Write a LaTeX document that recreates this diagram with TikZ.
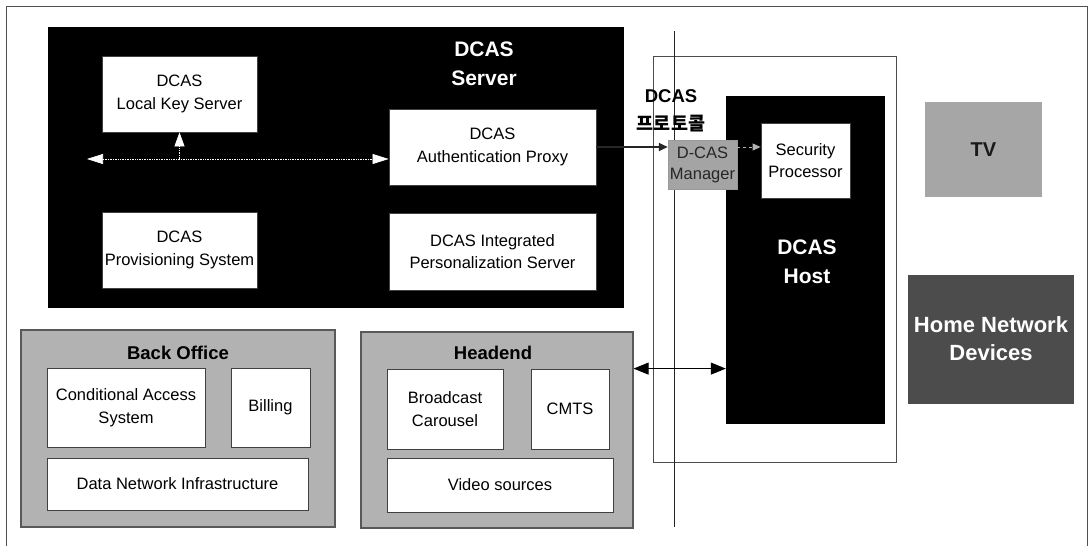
\documentclass[tikz,border=0pt]{standalone}
\usepackage{fontspec}
\setmainfont{Liberation Sans}
\newfontfamily\kr{Noto Sans CJK KR}
\usetikzlibrary{arrows.meta}
\definecolor{grpgray}{HTML}{B2B2B2}
\definecolor{tvgray}{HTML}{A6A6A6}
\definecolor{hndgray}{HTML}{4C4C4C}
\definecolor{dcmgray}{HTML}{A4A4A4}
\definecolor{framegray}{HTML}{505050}
\tikzset{
  wbox/.style={draw=black!75, line width=0.8pt, fill=white, align=center, inner sep=0pt,
    font=\fontsize{16.5}{22.5}\selectfont},
  blkbox/.style={fill=black, draw=black, inner sep=0pt},
  grpbox/.style={fill=grpgray, draw=black!65, line width=1.2pt, inner sep=0pt},
  biglbl/.style={font=\bfseries\fontsize{21}{29}\selectfont, text=white, align=center, inner sep=0pt},
  grplbl/.style={font=\bfseries\fontsize{18.5}{22}\selectfont, inner sep=0pt},
  whitearr/.style={draw=white, line width=0.7pt, densely dotted},
  whitetip/.style={{Triangle[length=16pt,width=10pt,fill=white,color=white]}},
}
\begin{document}
\begin{tikzpicture}[x=1pt,y=-1pt]
\useasboundingbox (0,0) rectangle (1090,546);
% outer frame
\coordinate (f1) at (6,546);
\coordinate (f2) at (6,6);
\coordinate (f3) at (1087,6);
\coordinate (f4) at (1087,546);
\draw[framegray, line width=0.9pt] (f1) -- (f2) -- (f3) -- (f4);

% DCAS server
\node[blkbox, minimum width=575, minimum height=280] (srv) at (335.5,167) {};
\node[biglbl] (srvlbl) at (484,64) {DCAS\\Server};
\node[wbox, minimum width=155, minimum height=76] (lks) at (179.5,94) {DCAS\\Local Key Server};
\node[wbox, minimum width=155, minimum height=76] (prov) at (179.5,250) {DCAS\\Provisioning System};
\node[wbox, minimum width=207, minimum height=76] (auth) at (492.5,147) {DCAS\\Authentication Proxy};
\node[wbox, minimum width=207, minimum height=77] (dips) at (492.5,251.5) {DCAS Integrated\\Personalization Server};
\coordinate (la) at (87,159);
\draw[whitearr, {Triangle[length=16pt,width=10pt,color=white]}-{Triangle[length=16pt,width=10pt,color=white]}]
  (la) -- (la -| auth.west);
\draw[whitearr, -{Triangle[length=14pt,width=10pt,color=white]}] (lks.south |- la) -- (lks.south);

% DCAS host
\node[draw=black!70, line width=0.8pt, fill=white, minimum width=243, minimum height=406, inner sep=0pt] (hframe) at (774.5,259) {};
\coordinate (vt) at (674,31);
\coordinate (vb) at (674,527);
\draw[black!85, line width=0.9pt] (vt) -- (vb);
\node[blkbox, minimum width=158, minimum height=327] (host) at (805,259.5) {};
\node[biglbl] (hostlbl) at (807,262) {DCAS\\Host};
\node[wbox, minimum width=89, minimum height=75] (sp) at (805.5,160.5) {Security\\Processor};
\node[fill=dcmgray, draw=black!40, line width=0.5pt, minimum width=69, minimum height=49, inner sep=0pt,
  align=center, text=black!85, font=\fontsize{16.5}{21}\selectfont] (dcm) at (702.5,164.5) {D-CAS\\Manager};
\node[font=\bfseries\fontsize{18.5}{28}\selectfont, align=center, inner sep=0pt] (proto) at (671,111) {DCAS\\{\kr\bfseries 프로토콜}};
\draw[black!85, line width=1.6pt, -{Triangle[length=9pt,width=8pt]}] (auth.east) -- (auth.east -| dcm.west);
\draw[gray!60, line width=1pt, dashed, -{Triangle[length=8pt,width=7pt]}] (dcm.east |- auth.east) -- (sp.west |- auth.east);

% TV and home network
\node[fill=tvgray, minimum width=117, minimum height=95, inner sep=0pt,
  font=\bfseries\fontsize{20}{24}\selectfont, text=black!90] (tv) at (983.5,149.5) {TV};
\node[fill=hndgray, minimum width=166, minimum height=129, inner sep=0pt, align=center,
  font=\bfseries\fontsize{22}{28}\selectfont, text=white] (hnd) at (991,339) {Home Network\\Devices};

% Back office
\node[grpbox, minimum width=314, minimum height=197] (bo) at (178,428.5) {};
\node[grplbl] (bolbl) at (178,353) {Back Office};
\node[wbox, minimum width=158, minimum height=79] (cas) at (126,407.5) {Conditional Access\\System};
\node[wbox, minimum width=79, minimum height=79] (bill) at (270.5,407.5) {Billing};
\node[wbox, minimum width=261, minimum height=52] (dni) at (177.5,484) {Data Network Infrastructure};

% Headend
\node[grpbox, minimum width=272, minimum height=196] (he) at (497,430) {};
\node[grplbl] (helbl) at (493,353) {Headend};
\node[wbox, minimum width=116, minimum height=80] (bc) at (445,409) {Broadcast\\Carousel};
\node[wbox, minimum width=78, minimum height=80] (cmts) at (570,409) {CMTS};
\node[wbox, minimum width=226, minimum height=54] (vs) at (500,485) {Video sources};

\draw[black, line width=1pt, {Triangle[length=15pt,width=12pt]}-{Triangle[length=15pt,width=12pt]}]
  (he.east |- cmts.north) -- (host.west |- cmts.north);
\end{tikzpicture}
\end{document}
